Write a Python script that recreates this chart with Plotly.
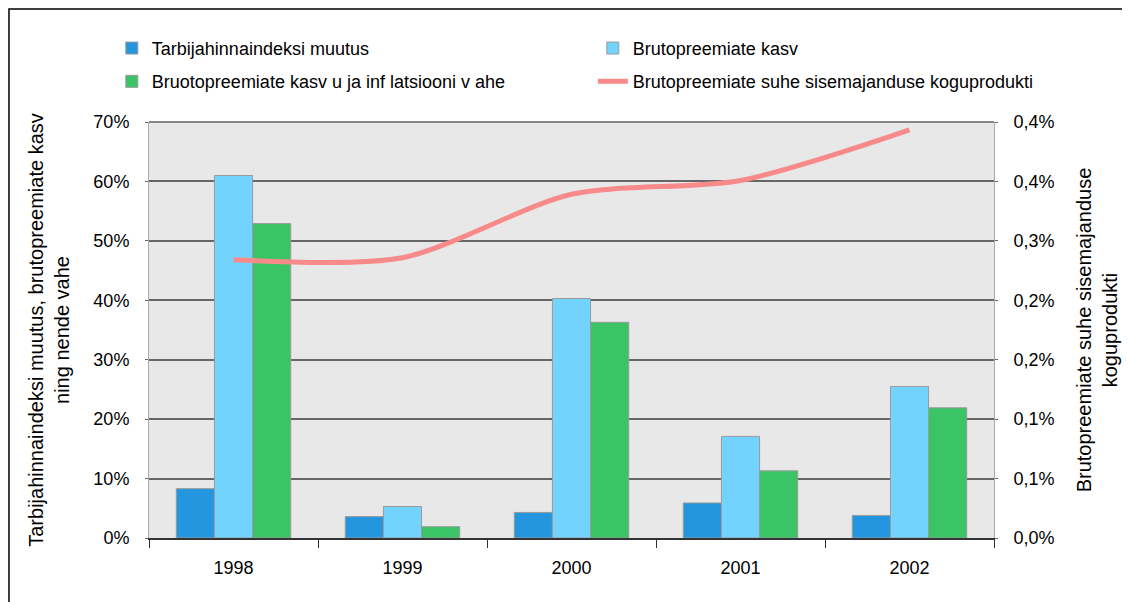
import plotly.graph_objects as go

years = ["1998", "1999", "2000", "2001", "2002"]
tarbija = [8.3, 3.6, 4.3, 5.9, 3.8]
kasv = [61.0, 5.3, 40.3, 17.1, 25.5]
vahe = [52.9, 1.9, 36.3, 11.3, 21.9]
suhe_skp = [0.281, 0.283, 0.347, 0.361, 0.412]

y2_ticks = [0, 0.06, 0.12, 0.18, 0.24, 0.30, 0.36, 0.42]
y2_labels = ["0,0%", "0,1%", "0,1%", "0,2%", "0,2%", "0,3%", "0,4%", "0,4%"]

FONT = "Liberation Sans, Arial, sans-serif"
edge = dict(color="#9a9a9a", width=1)

fig = go.Figure()
fig.add_trace(go.Bar(x=years, y=tarbija, name="Tarbijahinnaindeksi muutus",
                     marker=dict(color="#2396df", line=edge), legend="legend"))
fig.add_trace(go.Bar(x=years, y=kasv, name="Brutopreemiate kasv",
                     marker=dict(color="#73d3ff", line=edge), legend="legend"))
fig.add_trace(go.Bar(x=years, y=vahe, name="Bruotopreemiate kasv u ja inf latsiooni v ahe",
                     marker=dict(color="#3ac465", line=edge), legend="legend2"))
fig.add_trace(go.Scatter(x=years, y=suhe_skp, yaxis="y2", mode="lines",
                         name="Brutopreemiate suhe sisemajanduse koguprodukti",
                         line=dict(color="#f88a8a", width=5, shape="spline", smoothing=0.8),
                         legend="legend2"))

legend_common = dict(orientation="h", xanchor="left", yanchor="middle",
                     entrywidth=436, entrywidthmode="pixels",
                     bgcolor="rgba(0,0,0,0)", font=dict(family=FONT, size=18, color="black"),
                     itemclick=False)

# the page body adds an 8px offset, so margins are set 8px smaller on top/left
fig.update_layout(
    width=1130, height=602,
    margin=dict(l=141, r=144, t=114, b=72, autoexpand=False),
    paper_bgcolor="white",
    plot_bgcolor="#e8e8e8",
    font=dict(family=FONT, size=18, color="black"),
    barmode="group",
    bargap=0.323,
    bargroupgap=0,
    legend=dict(x=-0.044, y=1.177, **legend_common),
    legend2=dict(x=-0.044, y=1.097, **legend_common),
    xaxis=dict(showgrid=False, ticks="outside", tickson="boundaries", ticklen=8,
               tickcolor="#333", showline=True, linecolor="#333", linewidth=2,
               ticklabelstandoff=12, automargin=False),
    yaxis=dict(range=[0, 70], dtick=10, ticksuffix="%", showgrid=True,
               gridcolor="#666", gridwidth=1.5, zeroline=False,
               ticks="outside", ticklen=3, tickcolor="#666", ticklabelstandoff=12,
               showline=True, linecolor="#aaa", linewidth=1, automargin=False,
               title=dict(text="Tarbijahinnaindeksi muutus, brutopreemiate kasv<br>ning nende vahe",
                          font=dict(size=20), standoff=18)),
    yaxis2=dict(range=[0, 0.42], overlaying="y", side="right",
                tickvals=y2_ticks, ticktext=y2_labels, showgrid=False,
                ticks="outside", ticklen=3, tickcolor="#666", ticklabelstandoff=12,
                zeroline=False, showline=True, linecolor="#aaa", linewidth=1,
                automargin=False,
                title=dict(text="Brutopreemiate suhe sisemajanduse<br>koguprodukti",
                           font=dict(size=20), standoff=23)),
    showlegend=True,
)

# top border of plot area
fig.add_shape(type="line", xref="paper", yref="paper", x0=0, x1=1, y0=1, y1=1,
              line=dict(color="#888", width=2))
# outer frame around the chart
fig.add_shape(type="rect", xref="paper", yref="paper",
              x0=-0.1657, x1=1.25, y0=-0.25, y1=1.2716,
              line=dict(color="black", width=1.5), layer="below")

fig.write_html("out.html")
